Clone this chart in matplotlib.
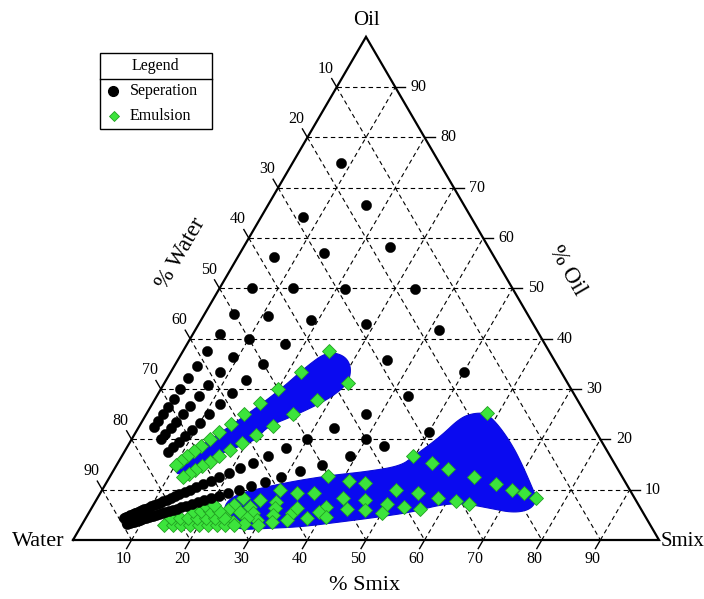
import numpy as np
import matplotlib
matplotlib.use('Agg')
import matplotlib.pyplot as plt
from matplotlib.lines import Line2D
from matplotlib.patches import Rectangle, Polygon

plt.rcParams['font.family'] = ['Liberation Serif', 'DejaVu Serif']

# ---------------- data (percent) ----------------
tick_values = [10, 20, 30, 40, 50, 60, 70, 80, 90]

# water % of the titration points along each oil:Smix dilution line
water_main = [16.7, 28.6, 37.5, 44.4, 50.0, 54.5, 58.3, 61.5, 64.3, 66.7,
              68.8, 70.6, 72.2, 73.7, 75.0]
water_tail = [76.2, 77.3, 78.3, 79.2, 80.0, 80.8, 81.5, 82.1, 82.8, 83.3,
              83.9, 84.4, 84.8, 85.3, 85.7, 86.1, 86.5, 86.8, 87.2, 87.5,
              87.8, 88.1, 88.4, 88.6, 88.9, 89.1]

# Separation: oil share (%) of the oil+Smix part, and the water % read for each point
sep_oil_share = [90, 80, 70, 60, 50, 40, 30]
sep_water = [water_main,
             water_main,
             water_main,
             [16.7, 28.6],
             [16.7, 28.6],
             water_main + water_tail,
             water_main[1:] + water_tail]
sep_extra_oil = [20.0]
sep_extra_smix = [40.0]

# Emulsion along dilution lines (upper band)
emul_oil_share = [60, 50]
emul_water = [water_main[2:], water_main[2:]]

# Emulsion points read individually (lower region)
emul_oil = [16.6, 15.4, 14.2, 12.6, 11.1, 9.9, 9.3, 8.3, 9.9, 9.3, 8.3, 7.7, 7.2,
            7.2, 6.6, 6.2, 5.4, 25.2,
            12.7, 11.7, 11.3, 9.9, 9.4, 9.4, 8.3, 8.0, 8.0, 8.3, 7.6, 6.5, 6.1,
            6.0, 5.6, 4.5, 4.3, 6.3, 5.0, 3.6, 5.3, 6.3, 4.0, 6.6, 5.3, 4.0,
            3.0, 7.0, 5.6, 4.3, 6.0, 5.6, 4.6, 3.6, 3.2,
            3.0, 3.0, 3.0, 3.0, 3.0, 3.0, 3.0, 3.0, 3.0,
            4.4, 4.4, 4.4, 4.4, 4.4, 4.4, 4.4,
            5.8, 5.8, 5.8, 5.8, 7.0, 7.0]
emul_smix = [49.8, 53.6, 56.9, 62.2, 66.6, 69.9, 72.3, 74.9, 50.2, 54.3, 58.2, 61.5, 64.0,
             49.9, 53.2, 56.1, 50.1, 58.0,
             37.2, 41.3, 44.2, 30.4, 33.5, 36.4, 42.0, 45.8, 27.9, 24.9, 30.8, 40.0, 43.7,
             46.8, 39.1, 41.0, 37.7, 31.3, 31.7, 32.1, 34.7, 35.0, 34.5, 26.9, 28.1, 29.4,
             30.1, 23.9, 25.7, 27.5, 23.5, 21.4, 23.6, 25.5, 27.5,
             14.0, 15.5, 17.0, 18.5, 20.0, 21.5, 23.0, 24.5, 26.0,
             14.5, 16.0, 17.5, 19.0, 20.5, 22.0, 23.5,
             17.5, 19.0, 20.5, 22.0, 19.0, 20.5]

# Emulsion regions (outline, oil %, Smix %)
upper_region_oil = [13.6, 15.9, 20.3, 24.9, 29.8, 34.5, 37.4, 36.8, 34.8, 32.1, 30.2,
                    27.8, 24.9, 22.5, 19.9, 17.9, 15.9, 12.9]
upper_region_smix = [10.6, 10.3, 13.7, 17.2, 20.4, 22.6, 24.6, 27.7, 30.0, 31.2, 31.0,
                     29.4, 25.7, 21.8, 21.4, 17.8, 14.9, 11.8]
lower_region_oil = [6.0, 8.9, 10.6, 11.9, 12.9, 13.6, 14.7, 16.6, 20.5, 24.2, 25.2, 25.2,
                    22.5, 18.5, 14.6, 10.6, 8.0, 6.0, 5.4, 6.3, 7.3, 7.0, 5.6, 4.6,
                    3.4, 2.6, 2.3, 2.0]
lower_region_smix = [22.4, 22.8, 27.8, 32.8, 38.0, 43.3, 48.5, 49.8, 52.4, 53.9, 55.7, 58.0,
                     61.6, 65.9, 69.5, 73.0, 75.2, 75.0, 72.4, 68.0, 63.0, 59.1, 55.3, 50.1,
                     42.7, 37.4, 31.9, 26.4]

# ---------------- helpers ----------------
S3 = np.sqrt(3) / 2.0


def tern(oil, smix):
    oil = np.asarray(oil, float)
    smix = np.asarray(smix, float)
    return smix + oil / 2.0, oil * S3


def ray_points(shares, waters):
    oils, smixs = [], []
    for sh, ws in zip(shares, waters):
        ws = np.asarray(ws, float)
        oils.append(sh * (100 - ws) / 100.0)
        smixs.append((100 - sh) * (100 - ws) / 100.0)
    return np.concatenate(oils), np.concatenate(smixs)


def chaikin(x, y, n=3):
    pts = np.column_stack([x, y])
    for _ in range(n):
        nxt = np.roll(pts, -1, axis=0)
        q = 0.75 * pts + 0.25 * nxt
        r = 0.25 * pts + 0.75 * nxt
        pts = np.empty((2 * len(q), 2))
        pts[0::2] = q
        pts[1::2] = r
    return pts


# ---------------- figure ----------------
fig = plt.figure(figsize=(7.04, 5.99), dpi=100)
ax = fig.add_axes([0, 0, 1, 1])
ax.set_xlim(-73 / 5.86, (704 - 73) / 5.86)
ax.set_ylim((540 - 599) / 5.81, 540 / 5.81)
ax.axis('off')

grid_kw = dict(color='black', lw=0.8, ls=(0, (4, 3)), zorder=1)
for k in tick_values:
    x, y = tern([k, k], [0, 100 - k]); ax.plot(x, y, **grid_kw)
    x, y = tern([0, 100 - k], [k, k]); ax.plot(x, y, **grid_kw)
    x, y = tern([100 - k, 0], [0, 100 - k]); ax.plot(x, y, **grid_kw)

x, y = tern([0, 0, 100, 0], [0, 100, 0, 0])
ax.plot(x, y, color='black', lw=1.6, zorder=2, solid_joinstyle='miter')

# emulsion regions
for ro, rs in [(upper_region_oil, upper_region_smix), (lower_region_oil, lower_region_smix)]:
    cx, cy = tern(ro, rs)
    pts = chaikin(cx, cy, 3)
    ax.add_patch(Polygon(pts, closed=True, facecolor='#0a0af0', edgecolor='#0a0ad8',
                         lw=0.8, zorder=3))

# points
eo, es = ray_points(emul_oil_share, emul_water)
eo = np.concatenate([eo, emul_oil]); es = np.concatenate([es, emul_smix])
gx, gy = tern(eo, es)
green = '#3ce43c'
ax.plot(gx, gy, ls='none', marker='D', ms=6.8, mfc=green, mec='#22a022', mew=0.6, zorder=4)

so, ss = ray_points(sep_oil_share, sep_water)
so = np.concatenate([so, sep_extra_oil]); ss = np.concatenate([ss, sep_extra_smix])
bx, by = tern(so, ss)
ax.plot(bx, by, ls='none', marker='o', ms=7.4, mfc='black', mec='black', mew=0.3, zorder=5)

# ticks and tick labels
L = 1.7
D = 3.7
fs_tick = 11.5
for k in tick_values:
    # bottom: Smix
    x0, y0 = tern(0, k)
    dx, dy = -0.5, -S3
    ax.plot([x0, x0 + dx * L], [y0, y0 + dy * L], color='black', lw=1, zorder=2)
    ax.text(x0 + dx * D + 0.5, y0 + dy * D, str(k), ha='center', va='center', fontsize=fs_tick)
    # right: Oil
    x0, y0 = tern(k, 100 - k)
    ax.plot([x0, x0 + L], [y0, y0], color='black', lw=1, zorder=2)
    ax.text(x0 + D + 0.3, y0, str(k), ha='center', va='center', fontsize=fs_tick)
    # left: Water
    x0, y0 = tern(100 - k, 0)
    dx, dy = -0.5, S3
    ax.plot([x0, x0 + dx * L], [y0, y0 + dy * L], color='black', lw=1, zorder=2)
    ax.text(x0 + dx * D, y0 + dy * D, str(k), ha='center', va='center', fontsize=fs_tick)

# vertex and axis titles
ax.text(50.0, 89.5, 'Oil', ha='center', va='center', fontsize=15)
ax.text(-5.9, -0.2, 'Water', ha='center', va='center', fontsize=16)
ax.text(104.1, -0.2, 'Smix', ha='center', va='center', fontsize=15)
ax.text(49.8, -7.75, '% Smix', ha='center', va='center', fontsize=16)
ax.text(18.4, 49.4, '% Water', ha='center', va='center', fontsize=16.5, rotation=60)
ax.text(84.3, 46.4, '% Oil', ha='center', va='center', fontsize=16.5, rotation=-60)

# legend box
W, H = 704.0, 599.0
fig.patches.append(Rectangle((100 / W, 1 - 129.3 / H), 111.7 / W, 76.6 / H,
                             transform=fig.transFigure, facecolor='white',
                             edgecolor='black', lw=1.0, zorder=10))
fig.lines.append(Line2D([100 / W, 211.7 / W], [1 - 79.3 / H, 1 - 79.3 / H],
                        transform=fig.transFigure, color='black', lw=1.0, zorder=11))
fig.text(155.5 / W, 1 - 66 / H, 'Legend', ha='center', va='center', fontsize=11.5, zorder=12)
fig.lines.append(Line2D([113 / W], [1 - 90.7 / H], transform=fig.transFigure, ls='none',
                        marker='o', ms=7, mfc='black', mec='black', zorder=12))
fig.text(130 / W, 1 - 90.7 / H, 'Seperation', ha='left', va='center', fontsize=11.5, zorder=12)
fig.lines.append(Line2D([114 / W], [1 - 116 / H], transform=fig.transFigure, ls='none',
                        marker='D', ms=5.5, mfc=green, mec='#22a022', mew=0.6, zorder=12))
fig.text(130 / W, 1 - 116 / H, 'Emulsion', ha='left', va='center', fontsize=11.5, zorder=12)

fig.savefig('out.png', dpi=100)
